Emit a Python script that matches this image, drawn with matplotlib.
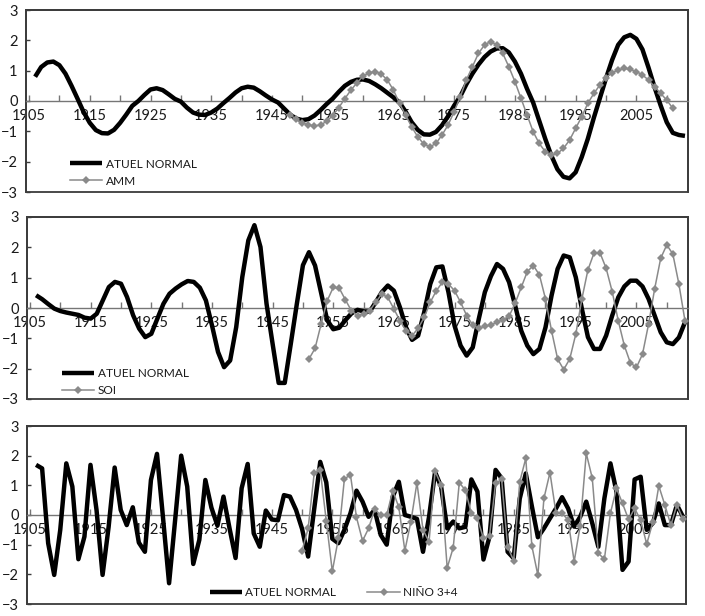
import matplotlib.pyplot as plt
import numpy as np

plt.rcParams["font.family"] = ["Lato", "DejaVu Sans"]

# ---- data ----
years = np.arange(1906, 2014)

atuel_smooth = [
    0.80, 1.12, 1.27, 1.30, 1.18, 0.90, 0.50, 0.07, -0.37, -0.72,
    -0.96, -1.06, -1.07, -0.95, -0.72, -0.45, -0.16, 0.00, 0.20, 0.38,
    0.42, 0.36, 0.22, 0.07, -0.02, -0.22, -0.38, -0.45, -0.46, -0.38,
    -0.25, -0.07, 0.10, 0.28, 0.42, 0.47, 0.44, 0.32, 0.18, 0.05,
    -0.05, -0.25, -0.45, -0.58, -0.63, -0.60, -0.48, -0.30, -0.10, 0.08,
    0.30, 0.50, 0.63, 0.70, 0.71, 0.66, 0.55, 0.42, 0.27, 0.12,
    -0.05, -0.35, -0.70, -0.95, -1.10, -1.11, -1.02, -0.80, -0.50, -0.15,
    0.15, 0.55, 0.90, 1.20, 1.45, 1.63, 1.73, 1.74, 1.60, 1.30,
    0.90, 0.40, -0.05, -0.65, -1.25, -1.80, -2.25, -2.50, -2.55, -2.35,
    -1.85, -1.25, -0.55, 0.10, 0.75, 1.35, 1.85, 2.10, 2.18, 2.05,
    1.70, 1.10, 0.45, -0.15, -0.70, -1.05, -1.12, -1.15,
]

amm_years = np.arange(1948, 2012)
amm = [
    -0.46, -0.60, -0.72, -0.79, -0.82, -0.79, -0.67, -0.48, -0.22, 0.08,
    0.36, 0.60, 0.82, 0.93, 0.97, 0.89, 0.69, 0.36, -0.08, -0.46,
    -0.85, -1.18, -1.42, -1.51, -1.40, -1.12, -0.79, -0.35, 0.14, 0.69,
    1.13, 1.57, 1.85, 1.96, 1.85, 1.57, 1.13, 0.64, 0.09, -0.46,
    -1.01, -1.40, -1.67, -1.78, -1.73, -1.56, -1.29, -0.90, -0.52, -0.08,
    0.25, 0.53, 0.77, 0.93, 1.02, 1.08, 1.04, 0.97, 0.86, 0.69,
    0.47, 0.25, 0.03, -0.24,
]

atuel_soi = [
    0.42, 0.29, 0.13, -0.02, -0.10, -0.15, -0.19, -0.23, -0.32, -0.35,
    -0.19, 0.25, 0.69, 0.86, 0.80, 0.36, -0.24, -0.68, -0.96, -0.85,
    -0.35, 0.14, 0.47, 0.64, 0.78, 0.89, 0.86, 0.67, 0.25, -0.57,
    -1.45, -1.95, -1.73, -0.63, 1.02, 2.23, 2.73, 2.01, 0.14, -1.18,
    -2.47, -2.47, -1.18, 0.14, 1.41, 1.84, 1.40, 0.50, -0.40, -0.70,
    -0.65, -0.40, -0.18, -0.06, -0.11, -0.12, 0.19, 0.52, 0.74, 0.57,
    0.02, -0.64, -1.05, -0.91, -0.14, 0.79, 1.34, 1.37, 0.52, -0.58,
    -1.24, -1.57, -1.30, -0.36, 0.52, 1.05, 1.45, 1.29, 0.85, 0.08,
    -0.75, -1.24, -1.52, -1.35, -0.64, 0.41, 1.29, 1.73, 1.67, 1.01,
    -0.03, -0.96, -1.35, -1.35, -0.91, -0.25, 0.35, 0.71, 0.90, 0.90,
    0.71, 0.30, -0.25, -0.80, -1.13, -1.19, -0.97, -0.47,
]

soi_years = np.arange(1951, 2014)
soi = [
    -1.68, -1.33, -0.53, 0.24, 0.68, 0.65, 0.27, -0.09, -0.25, -0.20,
    -0.09, 0.19, 0.46, 0.35, -0.03, -0.42, -0.75, -0.91, -0.67, -0.31,
    0.19, 0.57, 0.85, 0.79, 0.57, 0.19, -0.25, -0.56, -0.67, -0.60,
    -0.56, -0.47, -0.38, -0.27, 0.16, 0.68, 1.20, 1.40, 1.09, 0.30,
    -0.75, -1.68, -2.03, -1.68, -0.86, 0.30, 1.26, 1.81, 1.81, 1.31,
    0.54, -0.42, -1.24, -1.81, -1.96, -1.52, -0.53, 0.63, 1.64, 2.08,
    1.78, 0.79, -0.42,
]

atuel_nino = [
    1.69, 1.57, -0.95, -2.02, -0.50, 1.74, 0.96, -1.49, -0.73, 1.69,
    0.17, -2.02, -0.40, 1.60, 0.17, -0.34, 0.26, -0.93, -1.24, 1.18,
    2.06, -0.10, -2.30, -0.17, 2.00, 0.96, -1.65, -0.84, 1.18, 0.25,
    -0.36, 0.62, -0.45, -1.45, 0.90, 1.72, -0.62, -1.07, 0.15, -0.15,
    -0.18, 0.67, 0.62, 0.17, -0.47, -1.40, 0.20, 1.79, 1.10, -0.80,
    -0.95, -0.50, 0.06, 0.82, 0.45, -0.06, 0.17, -0.67, -1.00, 0.62,
    1.12, 0.00, -0.06, -0.13, -1.24, -0.06, 1.45, 0.95, -0.45, -0.22,
    -0.45, -0.40, 1.20, 0.79, -1.50, -0.73, 1.52, 1.24, -1.24, -1.46,
    0.55, 1.40, 0.30, -0.75, -0.45, -0.11, 0.22, 0.60, 0.22, -0.39,
    -0.06, 0.45, -0.28, -1.07, 0.56, 1.74, 0.79, -1.85, -1.57, 1.20,
    1.29, -0.50, -0.28, 0.39, -0.34, -0.34, 0.34, -0.06,
]

nino_years = np.arange(1950, 2014)
nino = [
    -1.20, -0.45, 1.40, 1.52, -0.20, -1.90, -0.79, 1.22, 1.35, -0.08,
    -0.87, -0.45, 0.19, 0.00, 0.00, 0.82, 0.26, -1.20, -0.22, 1.09,
    -0.50, -0.90, 1.48, 1.01, -1.78, -1.10, 1.09, 0.84, 0.06, -0.11,
    -0.79, -0.70, 1.07, 1.20, -1.07, -1.54, 1.12, 1.91, -1.04, -2.03,
    0.56, 1.43, 0.06, 0.06, -0.17, -1.57, -0.37, 2.08, 1.24, -1.29,
    -1.49, 0.06, 0.90, 0.39, -0.15, 0.22, -0.17, -0.98, -0.25, 0.98,
    0.34, -0.34, 0.34, -0.15,
]

label_years = list(range(1905, 2015, 10))
tick_years = list(range(1905, 2015, 5))

BLACK = "#000000"
GREY = "#8a8a8a"
FRAME = "#3c3c3c"
AXIS = "#767676"
TEXT = "#1a1a1a"


def style_panel(ax):
    ax.set_xlim(1904.5, 2013.5)
    ax.set_ylim(-3, 3)
    ax.set_yticks(range(-3, 4))

    # horizontal axis crosses at zero, the plot area keeps a full frame
    ax.spines["bottom"].set_position(("data", 0))
    ax.spines["bottom"].set_color(AXIS)
    ax.spines["bottom"].set_linewidth(1.0)
    for side in ("left", "top", "right"):
        ax.spines[side].set_color(FRAME)
        ax.spines[side].set_linewidth(1.3)
    ax.patch.set_edgecolor(FRAME)
    ax.patch.set_linewidth(1.3)

    ax.set_xticks(label_years)
    ax.set_xticklabels([str(y) for y in label_years])
    ax.set_xticks(tick_years, minor=True)
    ax.tick_params(axis="x", which="both", direction="in", length=4,
                   width=1, color=AXIS, labelsize=10.5, labelcolor=TEXT, pad=6)
    ax.tick_params(axis="y", direction="in", length=3, width=1,
                   color=FRAME, labelsize=10.5, labelcolor=TEXT, pad=6)


def draw(ax, atuel, other_years, other, other_label):
    ax.plot(years, atuel, color=BLACK, lw=3.2, solid_capstyle="butt",
            zorder=3, label="ATUEL NORMAL")
    ax.plot(other_years, other, color=GREY, lw=1.1, marker="D",
            markersize=4.2, markeredgewidth=0, zorder=4, label=other_label)


fig = plt.figure(figsize=(7.05, 6.16), dpi=100)

ax1 = fig.add_axes([26 / 705, 1 - 192 / 616, 662 / 705, 182 / 616])
ax2 = fig.add_axes([27 / 705, 1 - 399 / 616, 661 / 705, 182 / 616])
ax3 = fig.add_axes([27 / 705, 1 - 604 / 616, 659 / 705, 178 / 616])

draw(ax1, atuel_smooth, amm_years, amm, "AMM")
draw(ax2, atuel_soi, soi_years, soi, "SOI")
draw(ax3, atuel_nino, nino_years, nino, "NIÑO 3+4")

for ax in (ax1, ax2, ax3):
    style_panel(ax)

leg_kw = dict(frameon=False, fontsize=8.6, handlelength=2.7,
              handletextpad=0.3, labelspacing=0.5, borderpad=0,
              borderaxespad=0, labelcolor=TEXT)
ax1.legend(loc="center left", bbox_to_anchor=(0.066, 0.107), **leg_kw)
ax2.legend(loc="center left", bbox_to_anchor=(0.053, 0.091), **leg_kw)
ax3.legend(loc="center left", bbox_to_anchor=(0.277, 0.062), ncol=2,
           columnspacing=2.6, **leg_kw)

fig.savefig("out.png", dpi=100)
